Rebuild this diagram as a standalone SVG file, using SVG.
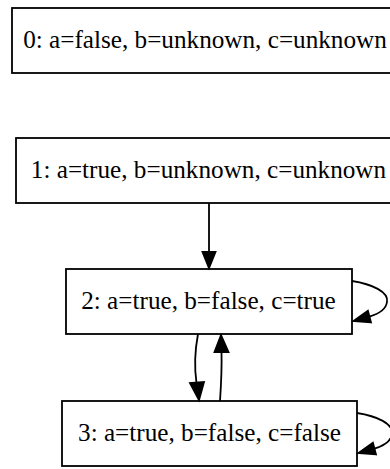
<svg xmlns="http://www.w3.org/2000/svg" width="390" height="469" viewBox="0 0 390 469">
<style>
.box{fill:#fff;stroke:#000;stroke-width:1.8}
.lbl{font-family:"Liberation Serif","Times New Roman",serif;font-size:25.2px;fill:#000;text-anchor:middle}
.edge{fill:none;stroke:#000;stroke-width:1.8}
.head{fill:#000;stroke:#000;stroke-width:1.8}
</style>
<rect width="390" height="469" fill="#fff"/>
<g id="node0">
<rect class="box" x="12" y="8" width="386" height="65"/>
<text class="lbl" x="205" y="48">0: a=false, b=unknown, c=unknown</text>
</g>
<g id="node1">
<rect class="box" x="16" y="138" width="385" height="65"/>
<text class="lbl" x="208.5" y="178">1: a=true, b=unknown, c=unknown</text>
</g>
<g id="node2">
<rect class="box" x="66" y="269" width="286" height="65"/>
<text class="lbl" x="208.5" y="309">2: a=true, b=false, c=true</text>
</g>
<g id="node3">
<rect class="box" x="62" y="401" width="295" height="65"/>
<text class="lbl" x="209.5" y="441">3: a=true, b=false, c=false</text>
</g>
<g id="edges">
<path class="edge" d="M209,203 L209,252"/>
<polygon class="head" points="202.5,252 209,268 215.5,252"/>
<path class="edge" d="M198,334 C195,350 194,366 196.5,383"/>
<polygon class="head" points="190,383 199,400 204,382"/>
<path class="edge" d="M220,401 C221,386 222,370 221.5,352"/>
<polygon class="head" points="214.5,352 221,335 228.5,352"/>
<path class="edge" d="M352,281 C372,284 389,292 387,302 C386,310 378,314 369.4,316.6"/>
<polygon class="head" points="371,322.4 353.5,321 367.9,310.8"/>
<path class="edge" d="M357,413 C377,416 394,424 392,434 C391,442 383,446 374.4,448.6"/>
<polygon class="head" points="376,454.4 358.5,453 372.9,442.8"/>
</g>
</svg>
